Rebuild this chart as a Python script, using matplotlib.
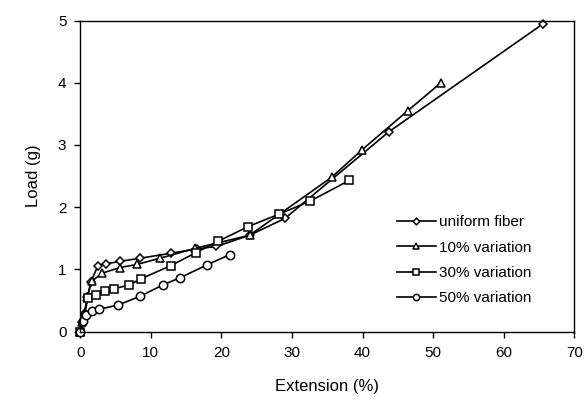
import matplotlib
matplotlib.use("Agg")
import matplotlib.pyplot as plt

plt.rcParams['font.family'] = ['Liberation Sans', 'DejaVu Sans']

# extension (%) and load (g) per fiber type
uniform_x = [0, 0.3, 0.6, 1.0, 1.5, 2.5, 3.7, 5.6, 8.5, 12.8, 16.5, 19.3, 24.0, 29.0, 43.7, 65.6]
uniform_y = [0, 0.15, 0.3, 0.55, 0.8, 1.06, 1.09, 1.13, 1.18, 1.26, 1.33, 1.37, 1.55, 1.82, 3.21, 4.95]

var10_x = [0, 0.3, 0.6, 1.0, 1.6, 3.1, 5.6, 8.0, 11.3, 16.3, 24.0, 35.6, 39.9, 46.4, 51.1]
var10_y = [0, 0.15, 0.3, 0.55, 0.81, 0.94, 1.03, 1.08, 1.18, 1.34, 1.55, 2.48, 2.92, 3.55, 4.0]

var30_x = [0, 1.1, 2.2, 3.5, 4.8, 6.9, 8.6, 12.8, 16.4, 19.5, 23.8, 28.2, 32.6, 38.1]
var30_y = [0, 0.54, 0.59, 0.65, 0.69, 0.75, 0.85, 1.06, 1.27, 1.45, 1.69, 1.89, 2.1, 2.43]

var50_x = [0, 0.4, 0.8, 1.6, 2.7, 5.4, 8.5, 11.7, 14.2, 17.9, 21.2]
var50_y = [0, 0.17, 0.27, 0.33, 0.36, 0.43, 0.57, 0.75, 0.87, 1.07, 1.24]

fig = plt.figure(figsize=(5.86, 4.03), dpi=100)
ax = fig.add_axes([0.137, 0.177, 0.843, 0.772])

style = dict(color='black', lw=1.2, mfc='white', mec='black', mew=1.1, clip_on=False)
ax.plot(uniform_x, uniform_y, marker='D', ms=4.5, label='uniform fiber', **style)
ax.plot(var10_x, var10_y, marker='^', ms=6, label='10% variation', **style)
ax.plot(var30_x, var30_y, marker='s', ms=6, label='30% variation', **style)
ax.plot(var50_x, var50_y, marker='o', ms=6, label='50% variation', **style)

ax.set_xlim(0, 70)
ax.set_ylim(0, 5)
ax.set_xticks(range(0, 71, 10))
ax.set_yticks(range(0, 6))
ax.tick_params(direction='out', length=4, width=1, labelsize=11, colors='black', pad=6)
for s in ax.spines.values():
    s.set_linewidth(1)
ax.set_xlabel('Extension (%)', fontsize=12, labelpad=14)
ax.set_ylabel('Load (g)', fontsize=12, labelpad=12)

ax.legend(loc='lower right', bbox_to_anchor=(0.94, 0.04), frameon=False,
          fontsize=11, handlelength=2.6, handletextpad=0.15, labelspacing=0.75,
          markerscale=0.75)

fig.savefig('out.png', dpi=100)
